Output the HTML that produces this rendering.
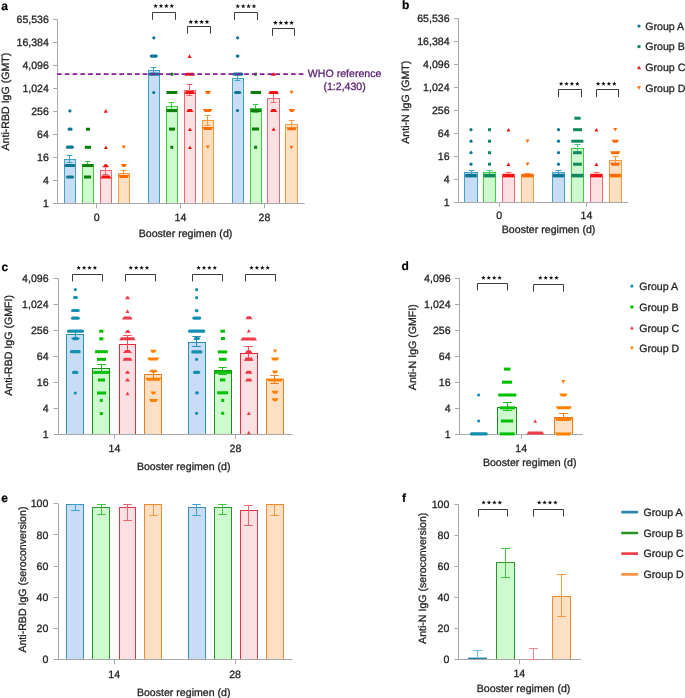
<!DOCTYPE html>
<html><head><meta charset="utf-8"><title>Figure</title>
<style>
html,body{margin:0;padding:0;background:#fff;}
body{width:685px;height:698px;overflow:hidden;}
svg{display:block;font-family:"Liberation Sans",sans-serif;-webkit-font-smoothing:antialiased;will-change:transform;text-rendering:geometricPrecision;}
</style></head>
<body>
<svg width="685" height="698" viewBox="0 0 685 698">
<rect x="0" y="0" width="685" height="698" fill="#fff"/>
<text x="1.20" y="9.50" text-anchor="start" fill="#000" stroke="#000" stroke-width="0.2" font-size="12.0" font-weight="bold" letter-spacing="0">a</text>
<line x1="57.50" y1="19.70" x2="57.50" y2="203.50" stroke="#a8a8a8" stroke-width="1" />
<line x1="53.10" y1="19.50" x2="57.60" y2="19.50" stroke="#a8a8a8" stroke-width="1" />
<text x="48.90" y="23.30" text-anchor="end" fill="#222" stroke="#222" stroke-width="0.28" font-size="10.6" font-weight="normal" letter-spacing="0.0">65,536</text>
<line x1="53.10" y1="42.50" x2="57.60" y2="42.50" stroke="#a8a8a8" stroke-width="1" />
<text x="48.90" y="46.30" text-anchor="end" fill="#222" stroke="#222" stroke-width="0.28" font-size="10.6" font-weight="normal" letter-spacing="0.0">16,384</text>
<line x1="53.10" y1="65.50" x2="57.60" y2="65.50" stroke="#a8a8a8" stroke-width="1" />
<text x="48.90" y="69.20" text-anchor="end" fill="#222" stroke="#222" stroke-width="0.28" font-size="10.6" font-weight="normal" letter-spacing="0.0">4,096</text>
<line x1="53.10" y1="88.50" x2="57.60" y2="88.50" stroke="#a8a8a8" stroke-width="1" />
<text x="48.90" y="92.20" text-anchor="end" fill="#222" stroke="#222" stroke-width="0.28" font-size="10.6" font-weight="normal" letter-spacing="0.0">1,024</text>
<line x1="53.10" y1="111.50" x2="57.60" y2="111.50" stroke="#a8a8a8" stroke-width="1" />
<text x="48.90" y="115.20" text-anchor="end" fill="#222" stroke="#222" stroke-width="0.28" font-size="10.6" font-weight="normal" letter-spacing="0.0">256</text>
<line x1="53.10" y1="134.50" x2="57.60" y2="134.50" stroke="#a8a8a8" stroke-width="1" />
<text x="48.90" y="138.20" text-anchor="end" fill="#222" stroke="#222" stroke-width="0.28" font-size="10.6" font-weight="normal" letter-spacing="0.0">64</text>
<line x1="53.10" y1="157.50" x2="57.60" y2="157.50" stroke="#a8a8a8" stroke-width="1" />
<text x="48.90" y="161.20" text-anchor="end" fill="#222" stroke="#222" stroke-width="0.28" font-size="10.6" font-weight="normal" letter-spacing="0.0">16</text>
<line x1="53.10" y1="180.50" x2="57.60" y2="180.50" stroke="#a8a8a8" stroke-width="1" />
<text x="48.90" y="184.10" text-anchor="end" fill="#222" stroke="#222" stroke-width="0.28" font-size="10.6" font-weight="normal" letter-spacing="0.0">4</text>
<line x1="53.10" y1="203.50" x2="57.60" y2="203.50" stroke="#a8a8a8" stroke-width="1" />
<text x="48.90" y="207.10" text-anchor="end" fill="#222" stroke="#222" stroke-width="0.28" font-size="10.6" font-weight="normal" letter-spacing="0.0">1</text>
<text transform="translate(8.50,101.60) rotate(-90)" x="0" y="0" text-anchor="middle" fill="#222" stroke="#222" stroke-width="0.28" font-size="10.6" letter-spacing="0.0">Anti-RBD IgG (GMT)</text>
<line x1="57.60" y1="203.50" x2="304.50" y2="203.50" stroke="#a8a8a8" stroke-width="1" />
<line x1="96.50" y1="203.50" x2="96.50" y2="208.20" stroke="#a8a8a8" stroke-width="1" />
<text x="96.60" y="221.20" text-anchor="middle" fill="#222" stroke="#222" stroke-width="0.28" font-size="10.6" font-weight="normal" letter-spacing="0.0">0</text>
<line x1="180.50" y1="203.50" x2="180.50" y2="208.20" stroke="#a8a8a8" stroke-width="1" />
<text x="180.50" y="221.20" text-anchor="middle" fill="#222" stroke="#222" stroke-width="0.28" font-size="10.6" font-weight="normal" letter-spacing="0.0">14</text>
<line x1="264.50" y1="203.50" x2="264.50" y2="208.20" stroke="#a8a8a8" stroke-width="1" />
<text x="264.40" y="221.20" text-anchor="middle" fill="#222" stroke="#222" stroke-width="0.28" font-size="10.6" font-weight="normal" letter-spacing="0.0">28</text>
<text x="185.50" y="236.70" text-anchor="middle" fill="#222" stroke="#222" stroke-width="0.28" font-size="10.6" font-weight="normal" letter-spacing="0.0">Booster regimen (d)</text>
<rect x="64.50" y="159.50" width="11.00" height="44.00" fill="#c8dcf5" stroke="#3ea2c6" stroke-width="1"/>
<rect x="82.50" y="164.50" width="11.00" height="39.00" fill="#cdfbcd" stroke="#3ccf3c" stroke-width="1"/>
<rect x="100.50" y="170.50" width="11.00" height="33.00" fill="#fde0e3" stroke="#f2646e" stroke-width="1"/>
<rect x="118.50" y="173.50" width="11.00" height="30.00" fill="#fde0c3" stroke="#fb9a3c" stroke-width="1"/>
<rect x="148.50" y="70.50" width="11.00" height="133.00" fill="#c8dcf5" stroke="#3ea2c6" stroke-width="1"/>
<rect x="166.50" y="106.50" width="11.00" height="97.00" fill="#cdfbcd" stroke="#3ccf3c" stroke-width="1"/>
<rect x="184.50" y="90.50" width="11.00" height="113.00" fill="#fde0e3" stroke="#f2646e" stroke-width="1"/>
<rect x="202.50" y="120.50" width="11.00" height="83.00" fill="#fde0c3" stroke="#fb9a3c" stroke-width="1"/>
<rect x="232.50" y="78.50" width="11.00" height="125.00" fill="#c8dcf5" stroke="#3ea2c6" stroke-width="1"/>
<rect x="250.50" y="108.50" width="11.00" height="95.00" fill="#cdfbcd" stroke="#3ccf3c" stroke-width="1"/>
<rect x="267.50" y="98.50" width="12.00" height="105.00" fill="#fde0e3" stroke="#f2646e" stroke-width="1"/>
<rect x="285.50" y="124.50" width="12.00" height="79.00" fill="#fde0c3" stroke="#fb9a3c" stroke-width="1"/>
<line x1="57.60" y1="203.50" x2="304.50" y2="203.50" stroke="#a8a8a8" stroke-width="1" />
<line x1="69.50" y1="155.50" x2="69.50" y2="162.50" stroke="#3ea2c6" stroke-width="1" />
<line x1="66.60" y1="155.50" x2="72.40" y2="155.50" stroke="#3ea2c6" stroke-width="1" />
<line x1="66.60" y1="162.50" x2="72.40" y2="162.50" stroke="#3ea2c6" stroke-width="1" />
<line x1="87.50" y1="161.50" x2="87.50" y2="166.50" stroke="#3ccf3c" stroke-width="1" />
<line x1="84.60" y1="161.50" x2="90.40" y2="161.50" stroke="#3ccf3c" stroke-width="1" />
<line x1="84.60" y1="166.50" x2="90.40" y2="166.50" stroke="#3ccf3c" stroke-width="1" />
<line x1="105.50" y1="166.50" x2="105.50" y2="174.50" stroke="#f2646e" stroke-width="1" />
<line x1="102.60" y1="166.50" x2="108.40" y2="166.50" stroke="#f2646e" stroke-width="1" />
<line x1="102.60" y1="174.50" x2="108.40" y2="174.50" stroke="#f2646e" stroke-width="1" />
<line x1="123.50" y1="170.50" x2="123.50" y2="176.50" stroke="#fb9a3c" stroke-width="1" />
<line x1="120.60" y1="170.50" x2="126.40" y2="170.50" stroke="#fb9a3c" stroke-width="1" />
<line x1="120.60" y1="176.50" x2="126.40" y2="176.50" stroke="#fb9a3c" stroke-width="1" />
<line x1="153.50" y1="67.50" x2="153.50" y2="73.50" stroke="#3ea2c6" stroke-width="1" />
<line x1="150.60" y1="67.50" x2="156.40" y2="67.50" stroke="#3ea2c6" stroke-width="1" />
<line x1="150.60" y1="73.50" x2="156.40" y2="73.50" stroke="#3ea2c6" stroke-width="1" />
<line x1="171.50" y1="102.50" x2="171.50" y2="109.50" stroke="#3ccf3c" stroke-width="1" />
<line x1="168.60" y1="102.50" x2="174.40" y2="102.50" stroke="#3ccf3c" stroke-width="1" />
<line x1="168.60" y1="109.50" x2="174.40" y2="109.50" stroke="#3ccf3c" stroke-width="1" />
<line x1="189.50" y1="84.50" x2="189.50" y2="95.50" stroke="#f2646e" stroke-width="1" />
<line x1="186.60" y1="84.50" x2="192.40" y2="84.50" stroke="#f2646e" stroke-width="1" />
<line x1="186.60" y1="95.50" x2="192.40" y2="95.50" stroke="#f2646e" stroke-width="1" />
<line x1="207.50" y1="115.50" x2="207.50" y2="125.50" stroke="#fb9a3c" stroke-width="1" />
<line x1="204.60" y1="115.50" x2="210.40" y2="115.50" stroke="#fb9a3c" stroke-width="1" />
<line x1="204.60" y1="125.50" x2="210.40" y2="125.50" stroke="#fb9a3c" stroke-width="1" />
<line x1="237.50" y1="73.50" x2="237.50" y2="80.50" stroke="#3ea2c6" stroke-width="1" />
<line x1="234.60" y1="73.50" x2="240.40" y2="73.50" stroke="#3ea2c6" stroke-width="1" />
<line x1="234.60" y1="80.50" x2="240.40" y2="80.50" stroke="#3ea2c6" stroke-width="1" />
<line x1="255.50" y1="104.50" x2="255.50" y2="112.50" stroke="#3ccf3c" stroke-width="1" />
<line x1="252.60" y1="104.50" x2="258.40" y2="104.50" stroke="#3ccf3c" stroke-width="1" />
<line x1="252.60" y1="112.50" x2="258.40" y2="112.50" stroke="#3ccf3c" stroke-width="1" />
<line x1="273.50" y1="93.50" x2="273.50" y2="102.50" stroke="#f2646e" stroke-width="1" />
<line x1="270.60" y1="93.50" x2="276.40" y2="93.50" stroke="#f2646e" stroke-width="1" />
<line x1="270.60" y1="102.50" x2="276.40" y2="102.50" stroke="#f2646e" stroke-width="1" />
<line x1="291.50" y1="120.50" x2="291.50" y2="129.50" stroke="#fb9a3c" stroke-width="1" />
<line x1="288.60" y1="120.50" x2="294.40" y2="120.50" stroke="#fb9a3c" stroke-width="1" />
<line x1="288.60" y1="129.50" x2="294.40" y2="129.50" stroke="#fb9a3c" stroke-width="1" />
<circle cx="69.90" cy="110.90" r="1.60" fill="#0f7594"/>
<rect x="67.60" y="127.60" width="4.90" height="3.20" rx="1.60" fill="#0f7594"/>
<rect x="65.90" y="145.60" width="8.00" height="3.20" rx="1.60" fill="#0f7594"/>
<rect x="64.50" y="163.90" width="11.00" height="3.20" rx="1.60" fill="#0f7594"/>
<rect x="66.00" y="175.40" width="8.00" height="3.20" rx="1.60" fill="#0f7594"/>
<rect x="86.00" y="127.70" width="4.00" height="3.00" fill="#0b7d0b"/>
<rect x="84.80" y="145.80" width="6.20" height="3.00" fill="#0b7d0b"/>
<rect x="82.40" y="164.00" width="10.90" height="3.00" fill="#0b7d0b"/>
<rect x="84.00" y="175.50" width="7.00" height="3.00" fill="#0b7d0b"/>
<polygon points="103.70,112.70 107.70,112.70 105.70,109.10" fill="#f31212"/>
<polygon points="103.90,149.10 107.90,149.10 105.90,145.50" fill="#f31212"/>
<polygon points="102.80,167.30 108.80,167.30 107.10,164.30 104.50,164.30" fill="#f31212"/>
<polygon points="100.40,178.50 111.40,178.50 109.70,175.50 102.10,175.50" fill="#f31212"/>
<polygon points="121.80,145.50 125.80,145.50 123.80,149.10" fill="#ff6a00"/>
<polygon points="120.90,164.00 126.90,164.00 125.20,167.00 122.60,167.00" fill="#ff6a00"/>
<polygon points="118.40,175.00 129.30,175.00 127.60,178.00 120.10,178.00" fill="#ff6a00"/>
<circle cx="153.80" cy="37.80" r="1.60" fill="#0f7594"/>
<rect x="149.80" y="54.50" width="8.00" height="3.20" rx="1.60" fill="#0f7594"/>
<rect x="148.50" y="72.60" width="10.80" height="3.20" rx="1.60" fill="#0f7594"/>
<circle cx="153.80" cy="92.50" r="1.60" fill="#0f7594"/>
<rect x="170.60" y="72.70" width="2.80" height="3.00" fill="#0b7d0b"/>
<rect x="166.40" y="91.00" width="10.90" height="3.00" fill="#0b7d0b"/>
<rect x="166.40" y="109.10" width="10.90" height="3.00" fill="#0b7d0b"/>
<rect x="169.00" y="127.60" width="6.00" height="3.00" fill="#0b7d0b"/>
<rect x="170.30" y="145.80" width="3.00" height="3.00" fill="#0b7d0b"/>
<polygon points="187.60,57.90 191.60,57.90 189.60,54.30" fill="#f31212"/>
<polygon points="184.60,75.70 195.20,75.70 193.50,72.70 186.30,72.70" fill="#f31212"/>
<polygon points="184.40,94.00 195.40,94.00 193.70,91.00 186.10,91.00" fill="#f31212"/>
<polygon points="186.30,112.10 193.30,112.10 191.60,109.10 188.00,109.10" fill="#f31212"/>
<polygon points="187.90,131.10 191.90,131.10 189.90,127.50" fill="#f31212"/>
<polygon points="187.90,149.10 191.90,149.10 189.90,145.50" fill="#f31212"/>
<polygon points="204.80,91.00 211.00,91.00 209.30,94.00 206.50,94.00" fill="#ff6a00"/>
<polygon points="202.90,109.10 212.40,109.10 210.70,112.10 204.60,112.10" fill="#ff6a00"/>
<polygon points="202.40,127.10 213.20,127.10 211.50,130.10 204.10,130.10" fill="#ff6a00"/>
<polygon points="205.80,145.50 209.80,145.50 207.80,149.10" fill="#ff6a00"/>
<circle cx="237.60" cy="37.80" r="1.60" fill="#0f7594"/>
<rect x="235.70" y="54.50" width="3.80" height="3.20" rx="1.60" fill="#0f7594"/>
<rect x="232.80" y="72.60" width="10.40" height="3.20" rx="1.60" fill="#0f7594"/>
<rect x="234.00" y="90.90" width="7.20" height="3.20" rx="1.60" fill="#0f7594"/>
<circle cx="237.50" cy="110.60" r="1.60" fill="#0f7594"/>
<rect x="254.20" y="72.70" width="2.70" height="3.00" fill="#0b7d0b"/>
<rect x="250.60" y="91.00" width="10.40" height="3.00" fill="#0b7d0b"/>
<rect x="250.40" y="109.10" width="10.80" height="3.00" fill="#0b7d0b"/>
<rect x="252.00" y="127.50" width="7.00" height="3.00" fill="#0b7d0b"/>
<rect x="254.10" y="145.80" width="3.00" height="3.00" fill="#0b7d0b"/>
<polygon points="271.00,75.70 276.00,75.70 274.30,72.70 272.70,72.70" fill="#f31212"/>
<polygon points="268.20,94.00 279.00,94.00 277.30,91.00 269.90,91.00" fill="#f31212"/>
<polygon points="270.00,112.10 277.20,112.10 275.50,109.10 271.70,109.10" fill="#f31212"/>
<polygon points="271.60,130.80 275.60,130.80 273.60,127.20" fill="#f31212"/>
<polygon points="289.50,90.70 293.50,90.70 291.50,94.30" fill="#ff6a00"/>
<polygon points="288.60,109.10 295.00,109.10 293.30,112.10 290.30,112.10" fill="#ff6a00"/>
<polygon points="286.20,127.20 297.00,127.20 295.30,130.20 287.90,130.20" fill="#ff6a00"/>
<polygon points="289.40,145.80 293.40,145.80 291.70,148.80 291.10,148.80" fill="#ff6a00"/>
<rect x="57.6" y="73.3" width="0.1" height="0.1" fill="none"/>
<line x1="56.96" y1="74.2" x2="303.7" y2="74.2" stroke="#8a1a9b" stroke-width="1.75" stroke-dasharray="4.7 3.1"/>
<text x="344.60" y="76.80" text-anchor="middle" fill="#5b2470" stroke="#5b2470" stroke-width="0.28" font-size="10.6" font-weight="normal" letter-spacing="0.0">WHO reference</text>
<text x="344.60" y="89.80" text-anchor="middle" fill="#5b2470" stroke="#5b2470" stroke-width="0.28" font-size="10.6" font-weight="normal" letter-spacing="0.0">(1:2,430)</text>
<polyline points="152.50,19.80 152.50,12.50 175.50,12.50 175.50,19.80" fill="none" stroke="#3a3a3a" stroke-width="1"/>
<polygon points="155.60,3.55 156.22,5.20 157.98,5.28 156.60,6.37 157.07,8.07 155.60,7.10 154.13,8.07 154.60,6.37 153.22,5.28 154.98,5.20" fill="#111"/>
<polygon points="161.00,3.55 161.62,5.20 163.38,5.28 162.00,6.37 162.47,8.07 161.00,7.10 159.53,8.07 160.00,6.37 158.62,5.28 160.38,5.20" fill="#111"/>
<polygon points="166.40,3.55 167.02,5.20 168.78,5.28 167.40,6.37 167.87,8.07 166.40,7.10 164.93,8.07 165.40,6.37 164.02,5.28 165.78,5.20" fill="#111"/>
<polygon points="171.80,3.55 172.42,5.20 174.18,5.28 172.80,6.37 173.27,8.07 171.80,7.10 170.33,8.07 170.80,6.37 169.42,5.28 171.18,5.20" fill="#111"/>
<polyline points="187.50,33.70 187.50,26.50 210.50,26.50 210.50,33.70" fill="none" stroke="#3a3a3a" stroke-width="1"/>
<polygon points="190.80,19.45 191.42,21.10 193.18,21.18 191.80,22.27 192.27,23.97 190.80,23.00 189.33,23.97 189.80,22.27 188.42,21.18 190.18,21.10" fill="#111"/>
<polygon points="196.20,19.45 196.82,21.10 198.58,21.18 197.20,22.27 197.67,23.97 196.20,23.00 194.73,23.97 195.20,22.27 193.82,21.18 195.58,21.10" fill="#111"/>
<polygon points="201.60,19.45 202.22,21.10 203.98,21.18 202.60,22.27 203.07,23.97 201.60,23.00 200.13,23.97 200.60,22.27 199.22,21.18 200.98,21.10" fill="#111"/>
<polygon points="207.00,19.45 207.62,21.10 209.38,21.18 208.00,22.27 208.47,23.97 207.00,23.00 205.53,23.97 206.00,22.27 204.62,21.18 206.38,21.10" fill="#111"/>
<polyline points="234.50,20.20 234.50,12.50 257.50,12.50 257.50,20.20" fill="none" stroke="#3a3a3a" stroke-width="1"/>
<polygon points="237.80,3.75 238.42,5.40 240.18,5.48 238.80,6.57 239.27,8.27 237.80,7.30 236.33,8.27 236.80,6.57 235.42,5.48 237.18,5.40" fill="#111"/>
<polygon points="243.20,3.75 243.82,5.40 245.58,5.48 244.20,6.57 244.67,8.27 243.20,7.30 241.73,8.27 242.20,6.57 240.82,5.48 242.58,5.40" fill="#111"/>
<polygon points="248.60,3.75 249.22,5.40 250.98,5.48 249.60,6.57 250.07,8.27 248.60,7.30 247.13,8.27 247.60,6.57 246.22,5.48 247.98,5.40" fill="#111"/>
<polygon points="254.00,3.75 254.62,5.40 256.38,5.48 255.00,6.57 255.47,8.27 254.00,7.30 252.53,8.27 253.00,6.57 251.62,5.48 253.38,5.40" fill="#111"/>
<polyline points="272.50,35.80 272.50,28.50 294.50,28.50 294.50,35.80" fill="none" stroke="#3a3a3a" stroke-width="1"/>
<polygon points="275.40,20.35 276.02,22.00 277.78,22.08 276.40,23.17 276.87,24.87 275.40,23.90 273.93,24.87 274.40,23.17 273.02,22.08 274.78,22.00" fill="#111"/>
<polygon points="280.80,20.35 281.42,22.00 283.18,22.08 281.80,23.17 282.27,24.87 280.80,23.90 279.33,24.87 279.80,23.17 278.42,22.08 280.18,22.00" fill="#111"/>
<polygon points="286.20,20.35 286.82,22.00 288.58,22.08 287.20,23.17 287.67,24.87 286.20,23.90 284.73,24.87 285.20,23.17 283.82,22.08 285.58,22.00" fill="#111"/>
<polygon points="291.60,20.35 292.22,22.00 293.98,22.08 292.60,23.17 293.07,24.87 291.60,23.90 290.13,24.87 290.60,23.17 289.22,22.08 290.98,22.00" fill="#111"/>
<text x="401.90" y="9.30" text-anchor="start" fill="#000" stroke="#000" stroke-width="0.2" font-size="12.0" font-weight="bold" letter-spacing="0">b</text>
<line x1="458.50" y1="18.40" x2="458.50" y2="202.30" stroke="#a8a8a8" stroke-width="1" />
<line x1="454.00" y1="18.50" x2="458.50" y2="18.50" stroke="#a8a8a8" stroke-width="1" />
<text x="449.60" y="22.00" text-anchor="end" fill="#222" stroke="#222" stroke-width="0.28" font-size="10.6" font-weight="normal" letter-spacing="0.0">65,536</text>
<line x1="454.00" y1="41.50" x2="458.50" y2="41.50" stroke="#a8a8a8" stroke-width="1" />
<text x="449.60" y="45.00" text-anchor="end" fill="#222" stroke="#222" stroke-width="0.28" font-size="10.6" font-weight="normal" letter-spacing="0.0">16,384</text>
<line x1="454.00" y1="64.50" x2="458.50" y2="64.50" stroke="#a8a8a8" stroke-width="1" />
<text x="449.60" y="68.00" text-anchor="end" fill="#222" stroke="#222" stroke-width="0.28" font-size="10.6" font-weight="normal" letter-spacing="0.0">4,096</text>
<line x1="454.00" y1="87.50" x2="458.50" y2="87.50" stroke="#a8a8a8" stroke-width="1" />
<text x="449.60" y="90.90" text-anchor="end" fill="#222" stroke="#222" stroke-width="0.28" font-size="10.6" font-weight="normal" letter-spacing="0.0">1,024</text>
<line x1="454.00" y1="110.50" x2="458.50" y2="110.50" stroke="#a8a8a8" stroke-width="1" />
<text x="449.60" y="113.90" text-anchor="end" fill="#222" stroke="#222" stroke-width="0.28" font-size="10.6" font-weight="normal" letter-spacing="0.0">256</text>
<line x1="454.00" y1="133.50" x2="458.50" y2="133.50" stroke="#a8a8a8" stroke-width="1" />
<text x="449.60" y="136.90" text-anchor="end" fill="#222" stroke="#222" stroke-width="0.28" font-size="10.6" font-weight="normal" letter-spacing="0.0">64</text>
<line x1="454.00" y1="156.50" x2="458.50" y2="156.50" stroke="#a8a8a8" stroke-width="1" />
<text x="449.60" y="159.90" text-anchor="end" fill="#222" stroke="#222" stroke-width="0.28" font-size="10.6" font-weight="normal" letter-spacing="0.0">16</text>
<line x1="454.00" y1="179.50" x2="458.50" y2="179.50" stroke="#a8a8a8" stroke-width="1" />
<text x="449.60" y="182.90" text-anchor="end" fill="#222" stroke="#222" stroke-width="0.28" font-size="10.6" font-weight="normal" letter-spacing="0.0">4</text>
<line x1="454.00" y1="202.50" x2="458.50" y2="202.50" stroke="#a8a8a8" stroke-width="1" />
<text x="449.60" y="205.90" text-anchor="end" fill="#222" stroke="#222" stroke-width="0.28" font-size="10.6" font-weight="normal" letter-spacing="0.0">1</text>
<text transform="translate(409.30,102.20) rotate(-90)" x="0" y="0" text-anchor="middle" fill="#222" stroke="#222" stroke-width="0.28" font-size="10.6" letter-spacing="0.0">Anti-N IgG (GMT)</text>
<line x1="458.50" y1="202.50" x2="628.20" y2="202.50" stroke="#a8a8a8" stroke-width="1" />
<line x1="499.50" y1="202.30" x2="499.50" y2="207.00" stroke="#a8a8a8" stroke-width="1" />
<text x="499.30" y="218.70" text-anchor="middle" fill="#222" stroke="#222" stroke-width="0.28" font-size="10.6" font-weight="normal" letter-spacing="0.0">0</text>
<line x1="586.50" y1="202.30" x2="586.50" y2="207.00" stroke="#a8a8a8" stroke-width="1" />
<text x="586.50" y="218.70" text-anchor="middle" fill="#222" stroke="#222" stroke-width="0.28" font-size="10.6" font-weight="normal" letter-spacing="0.0">14</text>
<text x="548.60" y="232.80" text-anchor="middle" fill="#222" stroke="#222" stroke-width="0.28" font-size="10.6" font-weight="normal" letter-spacing="0.0">Booster regimen (d)</text>
<rect x="464.50" y="172.50" width="13.00" height="30.00" fill="#c8dcf5" stroke="#3ea2c6" stroke-width="1"/>
<rect x="483.50" y="172.50" width="12.00" height="30.00" fill="#cdfbcd" stroke="#3ccf3c" stroke-width="1"/>
<rect x="502.50" y="174.50" width="12.00" height="28.00" fill="#fde0e3" stroke="#f2646e" stroke-width="1"/>
<rect x="521.50" y="174.50" width="12.00" height="28.00" fill="#fde0c3" stroke="#fb9a3c" stroke-width="1"/>
<rect x="552.50" y="172.50" width="12.00" height="30.00" fill="#c8dcf5" stroke="#3ea2c6" stroke-width="1"/>
<rect x="571.50" y="148.50" width="12.00" height="54.00" fill="#cdfbcd" stroke="#3ccf3c" stroke-width="1"/>
<rect x="590.50" y="174.50" width="12.00" height="28.00" fill="#fde0e3" stroke="#f2646e" stroke-width="1"/>
<rect x="609.50" y="160.50" width="12.00" height="42.00" fill="#fde0c3" stroke="#fb9a3c" stroke-width="1"/>
<line x1="458.50" y1="202.50" x2="628.20" y2="202.50" stroke="#a8a8a8" stroke-width="1" />
<line x1="471.50" y1="170.50" x2="471.50" y2="174.50" stroke="#3ea2c6" stroke-width="1" />
<line x1="468.50" y1="170.50" x2="474.50" y2="170.50" stroke="#3ea2c6" stroke-width="1" />
<line x1="468.50" y1="174.50" x2="474.50" y2="174.50" stroke="#3ea2c6" stroke-width="1" />
<line x1="489.50" y1="170.50" x2="489.50" y2="174.50" stroke="#3fc7a0" stroke-width="1" />
<line x1="486.50" y1="170.50" x2="492.50" y2="170.50" stroke="#3fc7a0" stroke-width="1" />
<line x1="486.50" y1="174.50" x2="492.50" y2="174.50" stroke="#3fc7a0" stroke-width="1" />
<line x1="508.50" y1="172.50" x2="508.50" y2="176.50" stroke="#f2646e" stroke-width="1" />
<line x1="505.50" y1="172.50" x2="511.50" y2="172.50" stroke="#f2646e" stroke-width="1" />
<line x1="505.50" y1="176.50" x2="511.50" y2="176.50" stroke="#f2646e" stroke-width="1" />
<line x1="527.50" y1="173.50" x2="527.50" y2="175.50" stroke="#fb9a3c" stroke-width="1" />
<line x1="524.50" y1="173.50" x2="530.50" y2="173.50" stroke="#fb9a3c" stroke-width="1" />
<line x1="524.50" y1="175.50" x2="530.50" y2="175.50" stroke="#fb9a3c" stroke-width="1" />
<line x1="558.50" y1="170.50" x2="558.50" y2="174.50" stroke="#3ea2c6" stroke-width="1" />
<line x1="555.50" y1="170.50" x2="561.50" y2="170.50" stroke="#3ea2c6" stroke-width="1" />
<line x1="555.50" y1="174.50" x2="561.50" y2="174.50" stroke="#3ea2c6" stroke-width="1" />
<line x1="577.50" y1="144.50" x2="577.50" y2="152.50" stroke="#3fc7a0" stroke-width="1" />
<line x1="574.50" y1="144.50" x2="580.50" y2="144.50" stroke="#3fc7a0" stroke-width="1" />
<line x1="574.50" y1="152.50" x2="580.50" y2="152.50" stroke="#3fc7a0" stroke-width="1" />
<line x1="596.50" y1="172.50" x2="596.50" y2="176.50" stroke="#f2646e" stroke-width="1" />
<line x1="593.50" y1="172.50" x2="599.50" y2="172.50" stroke="#f2646e" stroke-width="1" />
<line x1="593.50" y1="176.50" x2="599.50" y2="176.50" stroke="#f2646e" stroke-width="1" />
<line x1="615.50" y1="156.50" x2="615.50" y2="163.50" stroke="#fb9a3c" stroke-width="1" />
<line x1="612.50" y1="156.50" x2="618.50" y2="156.50" stroke="#fb9a3c" stroke-width="1" />
<line x1="612.50" y1="163.50" x2="618.50" y2="163.50" stroke="#fb9a3c" stroke-width="1" />
<circle cx="471.00" cy="129.70" r="1.60" fill="#0f7594"/>
<circle cx="471.00" cy="141.20" r="1.60" fill="#0f7594"/>
<circle cx="471.00" cy="152.70" r="1.60" fill="#0f7594"/>
<circle cx="471.00" cy="164.20" r="1.60" fill="#0f7594"/>
<rect x="465.20" y="173.80" width="11.60" height="3.6" fill="#0f7594"/>
<rect x="488.00" y="128.20" width="3.00" height="3.00" fill="#0e8a5a"/>
<rect x="488.00" y="139.70" width="3.00" height="3.00" fill="#0e8a5a"/>
<rect x="488.00" y="151.20" width="3.00" height="3.00" fill="#0e8a5a"/>
<rect x="488.00" y="162.70" width="3.00" height="3.00" fill="#0e8a5a"/>
<rect x="483.60" y="173.80" width="11.70" height="3.6" fill="#0e8a5a"/>
<polygon points="506.50,131.50 510.50,131.50 508.50,127.90" fill="#f31212"/>
<polygon points="506.50,166.00 510.50,166.00 508.50,162.40" fill="#f31212"/>
<rect x="502.70" y="173.80" width="11.60" height="3.6" fill="#f31212"/>
<polygon points="525.50,139.40 529.50,139.40 527.50,143.00" fill="#ff6a00"/>
<polygon points="525.50,162.40 529.50,162.40 527.50,166.00" fill="#ff6a00"/>
<rect x="521.70" y="173.80" width="11.70" height="3.6" fill="#ff6a00"/>
<circle cx="558.50" cy="129.70" r="1.60" fill="#0f7594"/>
<circle cx="558.50" cy="141.20" r="1.60" fill="#0f7594"/>
<circle cx="558.50" cy="152.70" r="1.60" fill="#0f7594"/>
<circle cx="558.50" cy="164.20" r="1.60" fill="#0f7594"/>
<rect x="552.70" y="173.80" width="11.60" height="3.6" fill="#0f7594"/>
<rect x="574.30" y="116.70" width="6.30" height="3.00" fill="#0e8a5a"/>
<rect x="573.10" y="128.20" width="8.90" height="3.00" fill="#0e8a5a"/>
<rect x="571.30" y="139.70" width="12.10" height="3.00" fill="#0e8a5a"/>
<rect x="573.00" y="151.20" width="8.80" height="3.00" fill="#0e8a5a"/>
<rect x="573.00" y="162.70" width="8.80" height="3.00" fill="#0e8a5a"/>
<rect x="571.30" y="173.80" width="12.10" height="3.6" fill="#0e8a5a"/>
<polygon points="594.40,131.50 598.40,131.50 596.40,127.90" fill="#f31212"/>
<polygon points="594.40,166.00 598.40,166.00 596.40,162.40" fill="#f31212"/>
<rect x="590.40" y="173.80" width="11.80" height="3.6" fill="#f31212"/>
<polygon points="613.20,127.90 617.20,127.90 615.20,131.50" fill="#ff6a00"/>
<polygon points="611.50,139.70 619.00,139.70 617.30,142.70 613.20,142.70" fill="#ff6a00"/>
<polygon points="610.00,151.20 620.40,151.20 618.70,154.20 611.70,154.20" fill="#ff6a00"/>
<polygon points="610.00,162.70 620.40,162.70 618.70,165.70 611.70,165.70" fill="#ff6a00"/>
<rect x="609.40" y="173.80" width="11.50" height="3.6" fill="#ff6a00"/>
<polyline points="558.50,97.20 558.50,89.50 581.50,89.50 581.50,97.20" fill="none" stroke="#3a3a3a" stroke-width="1"/>
<polygon points="561.10,81.39 561.68,82.94 563.33,83.01 562.04,84.04 562.48,85.64 561.10,84.72 559.72,85.64 560.16,84.04 558.87,83.01 560.52,82.94" fill="#111"/>
<polygon points="566.50,81.39 567.08,82.94 568.73,83.01 567.44,84.04 567.88,85.64 566.50,84.72 565.12,85.64 565.56,84.04 564.27,83.01 565.92,82.94" fill="#111"/>
<polygon points="571.90,81.39 572.48,82.94 574.13,83.01 572.84,84.04 573.28,85.64 571.90,84.72 570.52,85.64 570.96,84.04 569.67,83.01 571.32,82.94" fill="#111"/>
<polygon points="577.30,81.39 577.88,82.94 579.53,83.01 578.24,84.04 578.68,85.64 577.30,84.72 575.92,85.64 576.36,84.04 575.07,83.01 576.72,82.94" fill="#111"/>
<polyline points="596.50,97.20 596.50,89.50 618.50,89.50 618.50,97.20" fill="none" stroke="#3a3a3a" stroke-width="1"/>
<polygon points="598.10,81.39 598.68,82.94 600.33,83.01 599.04,84.04 599.48,85.64 598.10,84.72 596.72,85.64 597.16,84.04 595.87,83.01 597.52,82.94" fill="#111"/>
<polygon points="603.50,81.39 604.08,82.94 605.73,83.01 604.44,84.04 604.88,85.64 603.50,84.72 602.12,85.64 602.56,84.04 601.27,83.01 602.92,82.94" fill="#111"/>
<polygon points="608.90,81.39 609.48,82.94 611.13,83.01 609.84,84.04 610.28,85.64 608.90,84.72 607.52,85.64 607.96,84.04 606.67,83.01 608.32,82.94" fill="#111"/>
<polygon points="614.30,81.39 614.88,82.94 616.53,83.01 615.24,84.04 615.68,85.64 614.30,84.72 612.92,85.64 613.36,84.04 612.07,83.01 613.72,82.94" fill="#111"/>
<circle cx="639.00" cy="26.10" r="1.60" fill="#0f7594"/>
<text x="645.30" y="29.80" text-anchor="start" fill="#222" stroke="#222" stroke-width="0.28" font-size="10.6" font-weight="normal" letter-spacing="0.0">Group A</text>
<rect x="637.50" y="45.10" width="3.00" height="3.00" fill="#0e8a5a"/>
<text x="645.30" y="50.30" text-anchor="start" fill="#222" stroke="#222" stroke-width="0.28" font-size="10.6" font-weight="normal" letter-spacing="0.0">Group B</text>
<polygon points="637.00,69.20 641.00,69.20 639.00,65.60" fill="#f31212"/>
<text x="645.30" y="71.10" text-anchor="start" fill="#222" stroke="#222" stroke-width="0.28" font-size="10.6" font-weight="normal" letter-spacing="0.0">Group C</text>
<polygon points="637.00,86.20 641.00,86.20 639.00,89.80" fill="#ff6a00"/>
<text x="645.30" y="91.70" text-anchor="start" fill="#222" stroke="#222" stroke-width="0.28" font-size="10.6" font-weight="normal" letter-spacing="0.0">Group D</text>
<text x="1.60" y="270.50" text-anchor="start" fill="#000" stroke="#000" stroke-width="0.2" font-size="12.0" font-weight="bold" letter-spacing="0">c</text>
<line x1="58.50" y1="278.30" x2="58.50" y2="434.00" stroke="#a8a8a8" stroke-width="1" />
<line x1="53.50" y1="278.50" x2="58.00" y2="278.50" stroke="#a8a8a8" stroke-width="1" />
<text x="48.60" y="281.90" text-anchor="end" fill="#222" stroke="#222" stroke-width="0.28" font-size="10.6" font-weight="normal" letter-spacing="0.0">4,096</text>
<line x1="53.50" y1="304.50" x2="58.00" y2="304.50" stroke="#a8a8a8" stroke-width="1" />
<text x="48.60" y="307.80" text-anchor="end" fill="#222" stroke="#222" stroke-width="0.28" font-size="10.6" font-weight="normal" letter-spacing="0.0">1,024</text>
<line x1="53.50" y1="330.50" x2="58.00" y2="330.50" stroke="#a8a8a8" stroke-width="1" />
<text x="48.60" y="333.80" text-anchor="end" fill="#222" stroke="#222" stroke-width="0.28" font-size="10.6" font-weight="normal" letter-spacing="0.0">256</text>
<line x1="53.50" y1="356.50" x2="58.00" y2="356.50" stroke="#a8a8a8" stroke-width="1" />
<text x="48.60" y="359.70" text-anchor="end" fill="#222" stroke="#222" stroke-width="0.28" font-size="10.6" font-weight="normal" letter-spacing="0.0">64</text>
<line x1="53.50" y1="382.50" x2="58.00" y2="382.50" stroke="#a8a8a8" stroke-width="1" />
<text x="48.60" y="385.70" text-anchor="end" fill="#222" stroke="#222" stroke-width="0.28" font-size="10.6" font-weight="normal" letter-spacing="0.0">16</text>
<line x1="53.50" y1="408.50" x2="58.00" y2="408.50" stroke="#a8a8a8" stroke-width="1" />
<text x="48.60" y="411.60" text-anchor="end" fill="#222" stroke="#222" stroke-width="0.28" font-size="10.6" font-weight="normal" letter-spacing="0.0">4</text>
<line x1="53.50" y1="434.50" x2="58.00" y2="434.50" stroke="#a8a8a8" stroke-width="1" />
<text x="48.60" y="437.60" text-anchor="end" fill="#222" stroke="#222" stroke-width="0.28" font-size="10.6" font-weight="normal" letter-spacing="0.0">1</text>
<text transform="translate(12.10,345.40) rotate(-90)" x="0" y="0" text-anchor="middle" fill="#222" stroke="#222" stroke-width="0.28" font-size="10.6" letter-spacing="0.0">Anti-RBD IgG (GMFI)</text>
<line x1="58.00" y1="434.50" x2="292.40" y2="434.50" stroke="#a8a8a8" stroke-width="1" />
<line x1="114.50" y1="434.00" x2="114.50" y2="438.80" stroke="#a8a8a8" stroke-width="1" />
<text x="114.40" y="452.10" text-anchor="middle" fill="#222" stroke="#222" stroke-width="0.28" font-size="10.6" font-weight="normal" letter-spacing="0.0">14</text>
<line x1="235.50" y1="434.00" x2="235.50" y2="438.80" stroke="#a8a8a8" stroke-width="1" />
<text x="235.50" y="452.10" text-anchor="middle" fill="#222" stroke="#222" stroke-width="0.28" font-size="10.6" font-weight="normal" letter-spacing="0.0">28</text>
<text x="183.70" y="469.80" text-anchor="middle" fill="#222" stroke="#222" stroke-width="0.28" font-size="10.6" font-weight="normal" letter-spacing="0.0">Booster regimen (d)</text>
<rect x="66.50" y="334.50" width="17.00" height="100.00" fill="#c8dcf5" stroke="#2b90b4" stroke-width="1"/>
<rect x="92.50" y="368.50" width="17.00" height="66.00" fill="#cdfbcd" stroke="#1b8f1b" stroke-width="1"/>
<rect x="119.50" y="344.50" width="16.00" height="90.00" fill="#fde0e3" stroke="#ea2a36" stroke-width="1"/>
<rect x="144.50" y="374.50" width="17.00" height="60.00" fill="#fde0c3" stroke="#f27c1c" stroke-width="1"/>
<rect x="188.50" y="342.50" width="17.00" height="92.00" fill="#c8dcf5" stroke="#2b90b4" stroke-width="1"/>
<rect x="214.50" y="370.50" width="17.00" height="64.00" fill="#cdfbcd" stroke="#1b8f1b" stroke-width="1"/>
<rect x="240.50" y="353.50" width="17.00" height="81.00" fill="#fde0e3" stroke="#ea2a36" stroke-width="1"/>
<rect x="266.50" y="379.50" width="17.00" height="55.00" fill="#fde0c3" stroke="#f27c1c" stroke-width="1"/>
<line x1="58.00" y1="434.50" x2="292.40" y2="434.50" stroke="#a8a8a8" stroke-width="1" />
<line x1="75.50" y1="330.50" x2="75.50" y2="338.50" stroke="#2b90b4" stroke-width="1" />
<line x1="71.25" y1="330.50" x2="79.75" y2="330.50" stroke="#2b90b4" stroke-width="1" />
<line x1="71.25" y1="338.50" x2="79.75" y2="338.50" stroke="#2b90b4" stroke-width="1" />
<line x1="101.50" y1="364.50" x2="101.50" y2="372.50" stroke="#1fbf1f" stroke-width="1" />
<line x1="97.25" y1="364.50" x2="105.75" y2="364.50" stroke="#1fbf1f" stroke-width="1" />
<line x1="97.25" y1="372.50" x2="105.75" y2="372.50" stroke="#1fbf1f" stroke-width="1" />
<line x1="127.50" y1="335.50" x2="127.50" y2="352.50" stroke="#f0505c" stroke-width="1" />
<line x1="123.25" y1="335.50" x2="131.75" y2="335.50" stroke="#f0505c" stroke-width="1" />
<line x1="123.25" y1="352.50" x2="131.75" y2="352.50" stroke="#f0505c" stroke-width="1" />
<line x1="153.50" y1="371.50" x2="153.50" y2="378.50" stroke="#f27c1c" stroke-width="1" />
<line x1="149.25" y1="371.50" x2="157.75" y2="371.50" stroke="#f27c1c" stroke-width="1" />
<line x1="149.25" y1="378.50" x2="157.75" y2="378.50" stroke="#f27c1c" stroke-width="1" />
<line x1="196.50" y1="336.50" x2="196.50" y2="346.50" stroke="#2b90b4" stroke-width="1" />
<line x1="192.25" y1="336.50" x2="200.75" y2="336.50" stroke="#2b90b4" stroke-width="1" />
<line x1="192.25" y1="346.50" x2="200.75" y2="346.50" stroke="#2b90b4" stroke-width="1" />
<line x1="222.50" y1="367.50" x2="222.50" y2="374.50" stroke="#1fbf1f" stroke-width="1" />
<line x1="218.25" y1="367.50" x2="226.75" y2="367.50" stroke="#1fbf1f" stroke-width="1" />
<line x1="218.25" y1="374.50" x2="226.75" y2="374.50" stroke="#1fbf1f" stroke-width="1" />
<line x1="248.50" y1="346.50" x2="248.50" y2="360.50" stroke="#f0505c" stroke-width="1" />
<line x1="244.25" y1="346.50" x2="252.75" y2="346.50" stroke="#f0505c" stroke-width="1" />
<line x1="244.25" y1="360.50" x2="252.75" y2="360.50" stroke="#f0505c" stroke-width="1" />
<line x1="274.50" y1="375.50" x2="274.50" y2="383.50" stroke="#f27c1c" stroke-width="1" />
<line x1="270.25" y1="375.50" x2="278.75" y2="375.50" stroke="#f27c1c" stroke-width="1" />
<line x1="270.25" y1="383.50" x2="278.75" y2="383.50" stroke="#f27c1c" stroke-width="1" />
<circle cx="75.30" cy="289.60" r="1.60" fill="#1190b0"/>
<rect x="73.00" y="295.90" width="5.00" height="3.20" rx="1.60" fill="#1190b0"/>
<rect x="71.00" y="308.90" width="8.80" height="3.20" rx="1.60" fill="#1190b0"/>
<rect x="71.00" y="316.60" width="8.80" height="3.20" rx="1.60" fill="#1190b0"/>
<rect x="67.00" y="329.60" width="17.00" height="3.20" rx="1.60" fill="#1190b0"/>
<rect x="72.00" y="337.00" width="7.00" height="3.20" rx="1.60" fill="#1190b0"/>
<rect x="69.80" y="350.10" width="10.90" height="3.20" rx="1.60" fill="#1190b0"/>
<rect x="72.00" y="370.80" width="6.40" height="3.20" rx="1.60" fill="#1190b0"/>
<circle cx="75.30" cy="393.00" r="1.60" fill="#1190b0"/>
<rect x="99.20" y="329.70" width="4.20" height="3.00" fill="#00c000"/>
<rect x="99.20" y="337.30" width="4.20" height="3.00" fill="#00c000"/>
<rect x="95.10" y="350.20" width="12.70" height="3.00" fill="#00c000"/>
<rect x="97.00" y="357.80" width="9.00" height="3.00" fill="#00c000"/>
<rect x="93.30" y="370.90" width="16.10" height="3.00" fill="#00c000"/>
<rect x="98.00" y="378.50" width="7.00" height="3.00" fill="#00c000"/>
<rect x="97.00" y="391.50" width="9.00" height="3.00" fill="#00c000"/>
<rect x="99.80" y="399.00" width="3.00" height="3.00" fill="#00c000"/>
<rect x="99.80" y="412.00" width="3.00" height="3.00" fill="#00c000"/>
<polygon points="125.00,299.20 130.00,299.20 128.30,296.20 126.70,296.20" fill="#f23a48"/>
<polygon points="125.50,312.90 129.50,312.90 127.50,309.30" fill="#f23a48"/>
<polygon points="122.00,319.60 132.50,319.60 130.80,316.60 123.70,316.60" fill="#f23a48"/>
<polygon points="125.00,333.10 130.50,333.10 128.80,330.10 126.70,330.10" fill="#f23a48"/>
<polygon points="119.20,340.30 135.60,340.30 133.90,337.30 120.90,337.30" fill="#f23a48"/>
<polygon points="123.50,353.10 131.50,353.10 129.80,350.10 125.20,350.10" fill="#f23a48"/>
<polygon points="122.50,360.80 132.50,360.80 130.80,357.80 124.20,357.80" fill="#f23a48"/>
<polygon points="125.00,373.80 130.00,373.80 128.30,370.80 126.70,370.80" fill="#f23a48"/>
<polygon points="125.00,381.40 130.00,381.40 128.30,378.40 126.70,378.40" fill="#f23a48"/>
<polygon points="125.50,395.20 129.50,395.20 127.50,391.60" fill="#f23a48"/>
<polygon points="150.10,349.70 156.60,349.70 154.90,352.70 151.80,352.70" fill="#ff8000"/>
<polygon points="147.10,357.40 159.20,357.40 157.50,360.40 148.80,360.40" fill="#ff8000"/>
<polygon points="150.00,369.80 157.00,369.80 155.30,372.80 151.70,372.80" fill="#ff8000"/>
<polygon points="145.40,377.80 161.20,377.80 159.50,380.80 147.10,380.80" fill="#ff8000"/>
<polygon points="150.50,391.50 156.50,391.50 154.80,394.50 152.20,394.50" fill="#ff8000"/>
<polygon points="149.00,398.90 158.00,398.90 156.30,401.90 150.70,401.90" fill="#ff8000"/>
<circle cx="196.60" cy="289.70" r="1.60" fill="#1190b0"/>
<circle cx="196.60" cy="297.70" r="1.60" fill="#1190b0"/>
<rect x="194.75" y="309.00" width="3.80" height="3.20" rx="1.60" fill="#1190b0"/>
<rect x="192.20" y="316.50" width="9.00" height="3.20" rx="1.60" fill="#1190b0"/>
<rect x="188.00" y="329.60" width="17.30" height="3.20" rx="1.60" fill="#1190b0"/>
<rect x="193.80" y="336.90" width="6.20" height="3.20" rx="1.60" fill="#1190b0"/>
<rect x="191.20" y="350.30" width="11.30" height="3.20" rx="1.60" fill="#1190b0"/>
<circle cx="196.60" cy="359.30" r="1.60" fill="#1190b0"/>
<rect x="193.00" y="370.70" width="7.20" height="3.20" rx="1.60" fill="#1190b0"/>
<rect x="195.00" y="391.20" width="4.00" height="3.20" rx="1.60" fill="#1190b0"/>
<circle cx="196.60" cy="413.30" r="1.60" fill="#1190b0"/>
<rect x="220.40" y="329.70" width="4.60" height="3.00" fill="#00c000"/>
<rect x="221.00" y="337.00" width="4.00" height="3.00" fill="#00c000"/>
<rect x="217.80" y="350.40" width="9.40" height="3.00" fill="#00c000"/>
<rect x="218.90" y="357.80" width="7.60" height="3.00" fill="#00c000"/>
<rect x="214.60" y="370.80" width="16.30" height="3.00" fill="#00c000"/>
<rect x="220.00" y="378.40" width="5.40" height="3.00" fill="#00c000"/>
<rect x="217.20" y="391.30" width="10.80" height="3.00" fill="#00c000"/>
<rect x="221.20" y="398.90" width="3.00" height="3.00" fill="#00c000"/>
<rect x="221.20" y="411.80" width="3.00" height="3.00" fill="#00c000"/>
<polygon points="245.50,319.30 252.50,319.30 250.80,316.30 247.20,316.30" fill="#f23a48"/>
<polygon points="246.80,332.60 250.80,332.60 248.80,329.00" fill="#f23a48"/>
<polygon points="240.40,340.60 257.00,340.60 255.30,337.60 242.10,337.60" fill="#f23a48"/>
<polygon points="245.00,353.30 252.50,353.30 250.80,350.30 246.70,350.30" fill="#f23a48"/>
<polygon points="244.00,360.50 253.50,360.50 251.80,357.50 245.70,357.50" fill="#f23a48"/>
<polygon points="245.00,373.80 252.50,373.80 250.80,370.80 246.70,370.80" fill="#f23a48"/>
<polygon points="245.00,381.50 252.50,381.50 250.80,378.50 246.70,378.50" fill="#f23a48"/>
<polygon points="246.80,415.10 250.80,415.10 248.80,411.50" fill="#f23a48"/>
<polygon points="246.80,434.40 250.80,434.40 248.80,430.80" fill="#f23a48"/>
<polygon points="273.10,349.60 277.10,349.60 275.10,353.20" fill="#ff8000"/>
<polygon points="271.00,357.50 279.20,357.50 277.50,360.50 272.70,360.50" fill="#ff8000"/>
<polygon points="272.00,370.50 278.20,370.50 276.50,373.50 273.70,373.50" fill="#ff8000"/>
<polygon points="266.60,378.50 283.00,378.50 281.30,381.50 268.30,381.50" fill="#ff8000"/>
<polygon points="271.60,390.70 278.60,390.70 276.90,393.70 273.30,393.70" fill="#ff8000"/>
<polygon points="271.60,398.30 278.60,398.30 276.90,401.30 273.30,401.30" fill="#ff8000"/>
<polyline points="72.50,281.40 72.50,274.50 102.50,274.50 102.50,281.40" fill="none" stroke="#3a3a3a" stroke-width="1"/>
<polygon points="78.70,265.38 79.28,266.94 80.93,267.01 79.64,268.04 80.08,269.64 78.70,268.72 77.32,269.64 77.76,268.04 76.47,267.01 78.12,266.94" fill="#111"/>
<polygon points="84.10,265.38 84.68,266.94 86.33,267.01 85.04,268.04 85.48,269.64 84.10,268.72 82.72,269.64 83.16,268.04 81.87,267.01 83.52,266.94" fill="#111"/>
<polygon points="89.50,265.38 90.08,266.94 91.73,267.01 90.44,268.04 90.88,269.64 89.50,268.72 88.12,269.64 88.56,268.04 87.27,267.01 88.92,266.94" fill="#111"/>
<polygon points="94.90,265.38 95.48,266.94 97.13,267.01 95.84,268.04 96.28,269.64 94.90,268.72 93.52,269.64 93.96,268.04 92.67,267.01 94.32,266.94" fill="#111"/>
<polyline points="125.50,281.40 125.50,274.50 155.50,274.50 155.50,281.40" fill="none" stroke="#3a3a3a" stroke-width="1"/>
<polygon points="130.80,265.38 131.38,266.94 133.03,267.01 131.74,268.04 132.18,269.64 130.80,268.72 129.42,269.64 129.86,268.04 128.57,267.01 130.22,266.94" fill="#111"/>
<polygon points="136.20,265.38 136.78,266.94 138.43,267.01 137.14,268.04 137.58,269.64 136.20,268.72 134.82,269.64 135.26,268.04 133.97,267.01 135.62,266.94" fill="#111"/>
<polygon points="141.60,265.38 142.18,266.94 143.83,267.01 142.54,268.04 142.98,269.64 141.60,268.72 140.22,269.64 140.66,268.04 139.37,267.01 141.02,266.94" fill="#111"/>
<polygon points="147.00,265.38 147.58,266.94 149.23,267.01 147.94,268.04 148.38,269.64 147.00,268.72 145.62,269.64 146.06,268.04 144.77,267.01 146.42,266.94" fill="#111"/>
<polyline points="192.50,281.40 192.50,274.50 222.50,274.50 222.50,281.40" fill="none" stroke="#3a3a3a" stroke-width="1"/>
<polygon points="198.60,265.38 199.18,266.94 200.83,267.01 199.54,268.04 199.98,269.64 198.60,268.72 197.22,269.64 197.66,268.04 196.37,267.01 198.02,266.94" fill="#111"/>
<polygon points="204.00,265.38 204.58,266.94 206.23,267.01 204.94,268.04 205.38,269.64 204.00,268.72 202.62,269.64 203.06,268.04 201.77,267.01 203.42,266.94" fill="#111"/>
<polygon points="209.40,265.38 209.98,266.94 211.63,267.01 210.34,268.04 210.78,269.64 209.40,268.72 208.02,269.64 208.46,268.04 207.17,267.01 208.82,266.94" fill="#111"/>
<polygon points="214.80,265.38 215.38,266.94 217.03,267.01 215.74,268.04 216.18,269.64 214.80,268.72 213.42,269.64 213.86,268.04 212.57,267.01 214.22,266.94" fill="#111"/>
<polyline points="245.50,281.40 245.50,274.50 275.50,274.50 275.50,281.40" fill="none" stroke="#3a3a3a" stroke-width="1"/>
<polygon points="251.50,265.38 252.08,266.94 253.73,267.01 252.44,268.04 252.88,269.64 251.50,268.72 250.12,269.64 250.56,268.04 249.27,267.01 250.92,266.94" fill="#111"/>
<polygon points="256.90,265.38 257.48,266.94 259.13,267.01 257.84,268.04 258.28,269.64 256.90,268.72 255.52,269.64 255.96,268.04 254.67,267.01 256.32,266.94" fill="#111"/>
<polygon points="262.30,265.38 262.88,266.94 264.53,267.01 263.24,268.04 263.68,269.64 262.30,268.72 260.92,269.64 261.36,268.04 260.07,267.01 261.72,266.94" fill="#111"/>
<polygon points="267.70,265.38 268.28,266.94 269.93,267.01 268.64,268.04 269.08,269.64 267.70,268.72 266.32,269.64 266.76,268.04 265.47,267.01 267.12,266.94" fill="#111"/>
<text x="401.60" y="269.90" text-anchor="start" fill="#000" stroke="#000" stroke-width="0.2" font-size="12.0" font-weight="bold" letter-spacing="0">d</text>
<line x1="459.50" y1="278.30" x2="459.50" y2="434.00" stroke="#a8a8a8" stroke-width="1" />
<line x1="455.10" y1="278.50" x2="459.60" y2="278.50" stroke="#a8a8a8" stroke-width="1" />
<text x="450.60" y="281.90" text-anchor="end" fill="#222" stroke="#222" stroke-width="0.28" font-size="10.6" font-weight="normal" letter-spacing="0.0">4,096</text>
<line x1="455.10" y1="304.50" x2="459.60" y2="304.50" stroke="#a8a8a8" stroke-width="1" />
<text x="450.60" y="307.80" text-anchor="end" fill="#222" stroke="#222" stroke-width="0.28" font-size="10.6" font-weight="normal" letter-spacing="0.0">1,024</text>
<line x1="455.10" y1="330.50" x2="459.60" y2="330.50" stroke="#a8a8a8" stroke-width="1" />
<text x="450.60" y="333.80" text-anchor="end" fill="#222" stroke="#222" stroke-width="0.28" font-size="10.6" font-weight="normal" letter-spacing="0.0">256</text>
<line x1="455.10" y1="356.50" x2="459.60" y2="356.50" stroke="#a8a8a8" stroke-width="1" />
<text x="450.60" y="359.80" text-anchor="end" fill="#222" stroke="#222" stroke-width="0.28" font-size="10.6" font-weight="normal" letter-spacing="0.0">64</text>
<line x1="455.10" y1="382.50" x2="459.60" y2="382.50" stroke="#a8a8a8" stroke-width="1" />
<text x="450.60" y="385.70" text-anchor="end" fill="#222" stroke="#222" stroke-width="0.28" font-size="10.6" font-weight="normal" letter-spacing="0.0">16</text>
<line x1="455.10" y1="408.50" x2="459.60" y2="408.50" stroke="#a8a8a8" stroke-width="1" />
<text x="450.60" y="411.60" text-anchor="end" fill="#222" stroke="#222" stroke-width="0.28" font-size="10.6" font-weight="normal" letter-spacing="0.0">4</text>
<line x1="455.10" y1="434.50" x2="459.60" y2="434.50" stroke="#a8a8a8" stroke-width="1" />
<text x="450.60" y="437.60" text-anchor="end" fill="#222" stroke="#222" stroke-width="0.28" font-size="10.6" font-weight="normal" letter-spacing="0.0">1</text>
<text transform="translate(416.40,347.20) rotate(-90)" x="0" y="0" text-anchor="middle" fill="#222" stroke="#222" stroke-width="0.28" font-size="10.6" letter-spacing="0.0">Anti-N IgG (GMFI)</text>
<line x1="459.60" y1="434.50" x2="582.50" y2="434.50" stroke="#a8a8a8" stroke-width="1" />
<line x1="521.50" y1="434.00" x2="521.50" y2="438.80" stroke="#a8a8a8" stroke-width="1" />
<text x="521.20" y="452.30" text-anchor="middle" fill="#222" stroke="#222" stroke-width="0.28" font-size="10.6" font-weight="normal" letter-spacing="0.0">14</text>
<text x="529.70" y="466.40" text-anchor="middle" fill="#222" stroke="#222" stroke-width="0.28" font-size="10.6" font-weight="normal" letter-spacing="0.0">Booster regimen (d)</text>
<rect x="497.50" y="407.50" width="19.00" height="27.00" fill="#cdfbcd" stroke="#1b8f1b" stroke-width="1"/>
<rect x="554.50" y="417.50" width="18.00" height="17.00" fill="#fde0c3" stroke="#f27c1c" stroke-width="1"/>
<line x1="459.60" y1="434.50" x2="582.50" y2="434.50" stroke="#a8a8a8" stroke-width="1" />
<line x1="507.50" y1="402.50" x2="507.50" y2="410.50" stroke="#1fbf1f" stroke-width="1" />
<line x1="503.00" y1="402.50" x2="512.00" y2="402.50" stroke="#1fbf1f" stroke-width="1" />
<line x1="503.00" y1="410.50" x2="512.00" y2="410.50" stroke="#1fbf1f" stroke-width="1" />
<line x1="563.50" y1="413.50" x2="563.50" y2="420.50" stroke="#f27c1c" stroke-width="1" />
<line x1="559.00" y1="413.50" x2="568.00" y2="413.50" stroke="#f27c1c" stroke-width="1" />
<line x1="559.00" y1="420.50" x2="568.00" y2="420.50" stroke="#f27c1c" stroke-width="1" />
<rect x="469.90" y="432.30" width="18.00" height="3.20" rx="1.60" fill="#1190b0"/>
<circle cx="478.60" cy="395.00" r="1.60" fill="#1190b0"/>
<circle cx="478.60" cy="421.00" r="1.60" fill="#1190b0"/>
<rect x="504.00" y="367.60" width="6.50" height="3.00" fill="#00c000"/>
<rect x="502.00" y="380.70" width="10.00" height="3.00" fill="#00c000"/>
<rect x="498.20" y="393.50" width="18.20" height="3.00" fill="#00c000"/>
<rect x="500.00" y="406.30" width="15.00" height="3.00" fill="#00c000"/>
<rect x="500.90" y="419.50" width="12.30" height="3.00" fill="#00c000"/>
<rect x="499.70" y="432.40" width="14.90" height="3.00" fill="#00c000"/>
<polygon points="526.50,434.50 544.30,434.50 542.60,431.50 528.20,431.50" fill="#f23a48"/>
<polygon points="533.20,422.80 537.20,422.80 535.20,419.20" fill="#f23a48"/>
<polygon points="561.30,380.10 565.30,380.10 563.30,383.70" fill="#ff8000"/>
<polygon points="559.20,393.50 567.60,393.50 565.90,396.50 560.90,396.50" fill="#ff8000"/>
<polygon points="555.70,406.20 571.80,406.20 570.10,409.20 557.40,409.20" fill="#ff8000"/>
<polygon points="554.80,418.10 572.20,418.10 570.50,421.10 556.50,421.10" fill="#ff8000"/>
<polygon points="554.90,432.40 571.50,432.40 569.80,435.40 556.60,435.40" fill="#ff8000"/>
<polyline points="477.50,290.40 477.50,283.50 507.50,283.50 507.50,290.40" fill="none" stroke="#3a3a3a" stroke-width="1"/>
<polygon points="483.40,275.38 483.98,276.94 485.63,277.01 484.34,278.04 484.78,279.64 483.40,278.72 482.02,279.64 482.46,278.04 481.17,277.01 482.82,276.94" fill="#111"/>
<polygon points="488.80,275.38 489.38,276.94 491.03,277.01 489.74,278.04 490.18,279.64 488.80,278.72 487.42,279.64 487.86,278.04 486.57,277.01 488.22,276.94" fill="#111"/>
<polygon points="494.20,275.38 494.78,276.94 496.43,277.01 495.14,278.04 495.58,279.64 494.20,278.72 492.82,279.64 493.26,278.04 491.97,277.01 493.62,276.94" fill="#111"/>
<polygon points="499.60,275.38 500.18,276.94 501.83,277.01 500.54,278.04 500.98,279.64 499.60,278.72 498.22,279.64 498.66,278.04 497.37,277.01 499.02,276.94" fill="#111"/>
<polyline points="533.50,291.70 533.50,284.50 563.50,284.50 563.50,291.70" fill="none" stroke="#3a3a3a" stroke-width="1"/>
<polygon points="540.30,275.38 540.88,276.94 542.53,277.01 541.24,278.04 541.68,279.64 540.30,278.72 538.92,279.64 539.36,278.04 538.07,277.01 539.72,276.94" fill="#111"/>
<polygon points="545.70,275.38 546.28,276.94 547.93,277.01 546.64,278.04 547.08,279.64 545.70,278.72 544.32,279.64 544.76,278.04 543.47,277.01 545.12,276.94" fill="#111"/>
<polygon points="551.10,275.38 551.68,276.94 553.33,277.01 552.04,278.04 552.48,279.64 551.10,278.72 549.72,279.64 550.16,278.04 548.87,277.01 550.52,276.94" fill="#111"/>
<polygon points="556.50,275.38 557.08,276.94 558.73,277.01 557.44,278.04 557.88,279.64 556.50,278.72 555.12,279.64 555.56,278.04 554.27,277.01 555.92,276.94" fill="#111"/>
<circle cx="631.90" cy="286.10" r="1.60" fill="#1190b0"/>
<text x="639.20" y="289.90" text-anchor="start" fill="#222" stroke="#222" stroke-width="0.28" font-size="10.6" font-weight="normal" letter-spacing="0.0">Group A</text>
<rect x="630.40" y="305.50" width="3.00" height="3.00" fill="#00c000"/>
<text x="639.20" y="310.80" text-anchor="start" fill="#222" stroke="#222" stroke-width="0.28" font-size="10.6" font-weight="normal" letter-spacing="0.0">Group B</text>
<polygon points="629.90,329.60 633.90,329.60 631.90,326.00" fill="#f23a48"/>
<text x="639.20" y="331.60" text-anchor="start" fill="#222" stroke="#222" stroke-width="0.28" font-size="10.6" font-weight="normal" letter-spacing="0.0">Group C</text>
<polygon points="629.90,346.50 633.90,346.50 631.90,350.10" fill="#ff8000"/>
<text x="639.20" y="352.10" text-anchor="start" fill="#222" stroke="#222" stroke-width="0.28" font-size="10.6" font-weight="normal" letter-spacing="0.0">Group D</text>
<text x="1.30" y="501.90" text-anchor="start" fill="#000" stroke="#000" stroke-width="0.2" font-size="12.0" font-weight="bold" letter-spacing="0">e</text>
<line x1="58.50" y1="503.70" x2="58.50" y2="659.50" stroke="#a8a8a8" stroke-width="1" />
<line x1="53.50" y1="503.50" x2="58.00" y2="503.50" stroke="#a8a8a8" stroke-width="1" />
<text x="48.40" y="507.30" text-anchor="end" fill="#222" stroke="#222" stroke-width="0.28" font-size="10.6" font-weight="normal" letter-spacing="0.0">100</text>
<line x1="53.50" y1="534.50" x2="58.00" y2="534.50" stroke="#a8a8a8" stroke-width="1" />
<text x="48.40" y="538.50" text-anchor="end" fill="#222" stroke="#222" stroke-width="0.28" font-size="10.6" font-weight="normal" letter-spacing="0.0">80</text>
<line x1="53.50" y1="566.50" x2="58.00" y2="566.50" stroke="#a8a8a8" stroke-width="1" />
<text x="48.40" y="569.60" text-anchor="end" fill="#222" stroke="#222" stroke-width="0.28" font-size="10.6" font-weight="normal" letter-spacing="0.0">60</text>
<line x1="53.50" y1="597.50" x2="58.00" y2="597.50" stroke="#a8a8a8" stroke-width="1" />
<text x="48.40" y="600.80" text-anchor="end" fill="#222" stroke="#222" stroke-width="0.28" font-size="10.6" font-weight="normal" letter-spacing="0.0">40</text>
<line x1="53.50" y1="628.50" x2="58.00" y2="628.50" stroke="#a8a8a8" stroke-width="1" />
<text x="48.40" y="632.00" text-anchor="end" fill="#222" stroke="#222" stroke-width="0.28" font-size="10.6" font-weight="normal" letter-spacing="0.0">20</text>
<line x1="53.50" y1="659.50" x2="58.00" y2="659.50" stroke="#a8a8a8" stroke-width="1" />
<text x="48.40" y="663.10" text-anchor="end" fill="#222" stroke="#222" stroke-width="0.28" font-size="10.6" font-weight="normal" letter-spacing="0.0">0</text>
<text transform="translate(26.00,579.60) rotate(-90)" x="0" y="0" text-anchor="middle" fill="#222" stroke="#222" stroke-width="0.28" font-size="10.6" letter-spacing="0.0">Anti-RBD IgG (seroconversion)</text>
<line x1="58.00" y1="659.50" x2="292.30" y2="659.50" stroke="#a8a8a8" stroke-width="1" />
<line x1="114.50" y1="659.50" x2="114.50" y2="664.30" stroke="#a8a8a8" stroke-width="1" />
<text x="114.20" y="677.90" text-anchor="middle" fill="#222" stroke="#222" stroke-width="0.28" font-size="10.6" font-weight="normal" letter-spacing="0.0">14</text>
<line x1="235.50" y1="659.50" x2="235.50" y2="664.30" stroke="#a8a8a8" stroke-width="1" />
<text x="235.10" y="677.90" text-anchor="middle" fill="#222" stroke="#222" stroke-width="0.28" font-size="10.6" font-weight="normal" letter-spacing="0.0">28</text>
<text x="183.70" y="695.60" text-anchor="middle" fill="#222" stroke="#222" stroke-width="0.28" font-size="10.6" font-weight="normal" letter-spacing="0.0">Booster regimen (d)</text>
<rect x="66.50" y="504.50" width="17.00" height="155.00" fill="#c8dcf5" stroke="#3a90b6" stroke-width="1"/>
<rect x="92.50" y="507.50" width="17.00" height="152.00" fill="#cdfbcd" stroke="#2a962a" stroke-width="1"/>
<rect x="119.50" y="507.50" width="16.00" height="152.00" fill="#fde0e3" stroke="#ec3442" stroke-width="1"/>
<rect x="144.50" y="504.50" width="17.00" height="155.00" fill="#fde0c3" stroke="#f5882a" stroke-width="1"/>
<rect x="188.50" y="507.50" width="17.00" height="152.00" fill="#c8dcf5" stroke="#3a90b6" stroke-width="1"/>
<rect x="214.50" y="507.50" width="17.00" height="152.00" fill="#cdfbcd" stroke="#2a962a" stroke-width="1"/>
<rect x="240.50" y="510.50" width="17.00" height="149.00" fill="#fde0e3" stroke="#ec3442" stroke-width="1"/>
<rect x="266.50" y="504.50" width="17.00" height="155.00" fill="#fde0c3" stroke="#f5882a" stroke-width="1"/>
<line x1="58.00" y1="659.50" x2="292.30" y2="659.50" stroke="#a8a8a8" stroke-width="1" />
<line x1="75.50" y1="504.50" x2="75.50" y2="510.50" stroke="#3aa6c8" stroke-width="1" />
<line x1="71.25" y1="504.50" x2="79.75" y2="504.50" stroke="#3aa6c8" stroke-width="1" />
<line x1="71.25" y1="510.50" x2="79.75" y2="510.50" stroke="#3aa6c8" stroke-width="1" />
<line x1="101.50" y1="504.50" x2="101.50" y2="514.50" stroke="#3cc83c" stroke-width="1" />
<line x1="97.25" y1="504.50" x2="105.75" y2="504.50" stroke="#3cc83c" stroke-width="1" />
<line x1="97.25" y1="514.50" x2="105.75" y2="514.50" stroke="#3cc83c" stroke-width="1" />
<line x1="127.50" y1="504.50" x2="127.50" y2="520.50" stroke="#f2646e" stroke-width="1" />
<line x1="123.25" y1="504.50" x2="131.75" y2="504.50" stroke="#f2646e" stroke-width="1" />
<line x1="123.25" y1="520.50" x2="131.75" y2="520.50" stroke="#f2646e" stroke-width="1" />
<line x1="153.50" y1="504.50" x2="153.50" y2="515.50" stroke="#f59a3a" stroke-width="1" />
<line x1="149.25" y1="515.50" x2="157.75" y2="515.50" stroke="#f59a3a" stroke-width="1" />
<line x1="196.50" y1="504.50" x2="196.50" y2="515.50" stroke="#3aa6c8" stroke-width="1" />
<line x1="192.25" y1="504.50" x2="200.75" y2="504.50" stroke="#3aa6c8" stroke-width="1" />
<line x1="192.25" y1="515.50" x2="200.75" y2="515.50" stroke="#3aa6c8" stroke-width="1" />
<line x1="222.50" y1="504.50" x2="222.50" y2="514.50" stroke="#3cc83c" stroke-width="1" />
<line x1="218.25" y1="504.50" x2="226.75" y2="504.50" stroke="#3cc83c" stroke-width="1" />
<line x1="218.25" y1="514.50" x2="226.75" y2="514.50" stroke="#3cc83c" stroke-width="1" />
<line x1="248.50" y1="505.50" x2="248.50" y2="525.50" stroke="#f2646e" stroke-width="1" />
<line x1="244.25" y1="505.50" x2="252.75" y2="505.50" stroke="#f2646e" stroke-width="1" />
<line x1="244.25" y1="525.50" x2="252.75" y2="525.50" stroke="#f2646e" stroke-width="1" />
<line x1="274.50" y1="504.50" x2="274.50" y2="515.50" stroke="#f59a3a" stroke-width="1" />
<line x1="270.25" y1="515.50" x2="278.75" y2="515.50" stroke="#f59a3a" stroke-width="1" />
<text x="402.00" y="501.90" text-anchor="start" fill="#000" stroke="#000" stroke-width="0.2" font-size="12.0" font-weight="bold" letter-spacing="0">f</text>
<line x1="458.50" y1="504.10" x2="458.50" y2="659.50" stroke="#a8a8a8" stroke-width="1" />
<line x1="454.30" y1="504.50" x2="458.80" y2="504.50" stroke="#a8a8a8" stroke-width="1" />
<text x="449.40" y="507.70" text-anchor="end" fill="#222" stroke="#222" stroke-width="0.28" font-size="10.6" font-weight="normal" letter-spacing="0.0">100</text>
<line x1="454.30" y1="535.50" x2="458.80" y2="535.50" stroke="#a8a8a8" stroke-width="1" />
<text x="449.40" y="538.80" text-anchor="end" fill="#222" stroke="#222" stroke-width="0.28" font-size="10.6" font-weight="normal" letter-spacing="0.0">80</text>
<line x1="454.30" y1="566.50" x2="458.80" y2="566.50" stroke="#a8a8a8" stroke-width="1" />
<text x="449.40" y="569.90" text-anchor="end" fill="#222" stroke="#222" stroke-width="0.28" font-size="10.6" font-weight="normal" letter-spacing="0.0">60</text>
<line x1="454.30" y1="597.50" x2="458.80" y2="597.50" stroke="#a8a8a8" stroke-width="1" />
<text x="449.40" y="601.00" text-anchor="end" fill="#222" stroke="#222" stroke-width="0.28" font-size="10.6" font-weight="normal" letter-spacing="0.0">40</text>
<line x1="454.30" y1="628.50" x2="458.80" y2="628.50" stroke="#a8a8a8" stroke-width="1" />
<text x="449.40" y="632.00" text-anchor="end" fill="#222" stroke="#222" stroke-width="0.28" font-size="10.6" font-weight="normal" letter-spacing="0.0">20</text>
<line x1="454.30" y1="659.50" x2="458.80" y2="659.50" stroke="#a8a8a8" stroke-width="1" />
<text x="449.40" y="663.10" text-anchor="end" fill="#222" stroke="#222" stroke-width="0.28" font-size="10.6" font-weight="normal" letter-spacing="0.0">0</text>
<text transform="translate(426.20,578.30) rotate(-90)" x="0" y="0" text-anchor="middle" fill="#222" stroke="#222" stroke-width="0.28" font-size="10.6" letter-spacing="0.0">Anti-N IgG (seroconversion)</text>
<line x1="458.80" y1="659.50" x2="581.00" y2="659.50" stroke="#a8a8a8" stroke-width="1" />
<line x1="519.50" y1="659.50" x2="519.50" y2="664.30" stroke="#a8a8a8" stroke-width="1" />
<text x="519.30" y="677.30" text-anchor="middle" fill="#222" stroke="#222" stroke-width="0.28" font-size="10.6" font-weight="normal" letter-spacing="0.0">14</text>
<text x="523.60" y="691.60" text-anchor="middle" fill="#222" stroke="#222" stroke-width="0.28" font-size="10.6" font-weight="normal" letter-spacing="0.0">Booster regimen (d)</text>
<rect x="468.00" y="657.6" width="19.00" height="2" fill="#1f7fa0"/>
<rect x="496.50" y="562.50" width="18.00" height="97.00" fill="#cdfbcd" stroke="#2a962a" stroke-width="1"/>
<rect x="552.50" y="596.50" width="18.00" height="63.00" fill="#fde0c3" stroke="#f5882a" stroke-width="1"/>
<line x1="458.80" y1="659.50" x2="581.00" y2="659.50" stroke="#a8a8a8" stroke-width="1" />
<line x1="477.50" y1="650.50" x2="477.50" y2="657.50" stroke="#6cc2da" stroke-width="1" />
<line x1="472.75" y1="650.50" x2="482.25" y2="650.50" stroke="#6cc2da" stroke-width="1" />
<line x1="505.50" y1="548.50" x2="505.50" y2="577.50" stroke="#3cc83c" stroke-width="1" />
<line x1="500.90" y1="548.50" x2="510.10" y2="548.50" stroke="#3cc83c" stroke-width="1" />
<line x1="500.90" y1="577.50" x2="510.10" y2="577.50" stroke="#3cc83c" stroke-width="1" />
<line x1="561.50" y1="574.50" x2="561.50" y2="616.50" stroke="#f59a3a" stroke-width="1" />
<line x1="556.90" y1="574.50" x2="566.10" y2="574.50" stroke="#f59a3a" stroke-width="1" />
<line x1="556.90" y1="616.50" x2="566.10" y2="616.50" stroke="#f59a3a" stroke-width="1" />
<line x1="533.50" y1="648.50" x2="533.50" y2="659.50" stroke="#f5848e" stroke-width="1" />
<line x1="529.00" y1="648.50" x2="538.00" y2="648.50" stroke="#f5848e" stroke-width="1" />
<line x1="529.00" y1="659.50" x2="538.00" y2="659.50" stroke="#f5848e" stroke-width="1" />
<polyline points="478.50,516.60 478.50,509.50 507.50,509.50 507.50,516.60" fill="none" stroke="#3a3a3a" stroke-width="1"/>
<polygon points="483.60,500.28 484.18,501.84 485.83,501.91 484.54,502.94 484.98,504.54 483.60,503.62 482.22,504.54 482.66,502.94 481.37,501.91 483.02,501.84" fill="#111"/>
<polygon points="489.00,500.28 489.58,501.84 491.23,501.91 489.94,502.94 490.38,504.54 489.00,503.62 487.62,504.54 488.06,502.94 486.77,501.91 488.42,501.84" fill="#111"/>
<polygon points="494.40,500.28 494.98,501.84 496.63,501.91 495.34,502.94 495.78,504.54 494.40,503.62 493.02,504.54 493.46,502.94 492.17,501.91 493.82,501.84" fill="#111"/>
<polygon points="499.80,500.28 500.38,501.84 502.03,501.91 500.74,502.94 501.18,504.54 499.80,503.62 498.42,504.54 498.86,502.94 497.57,501.91 499.22,501.84" fill="#111"/>
<polyline points="533.50,516.60 533.50,509.50 563.50,509.50 563.50,516.60" fill="none" stroke="#3a3a3a" stroke-width="1"/>
<polygon points="539.20,500.28 539.78,501.84 541.43,501.91 540.14,502.94 540.58,504.54 539.20,503.62 537.82,504.54 538.26,502.94 536.97,501.91 538.62,501.84" fill="#111"/>
<polygon points="544.60,500.28 545.18,501.84 546.83,501.91 545.54,502.94 545.98,504.54 544.60,503.62 543.22,504.54 543.66,502.94 542.37,501.91 544.02,501.84" fill="#111"/>
<polygon points="550.00,500.28 550.58,501.84 552.23,501.91 550.94,502.94 551.38,504.54 550.00,503.62 548.62,504.54 549.06,502.94 547.77,501.91 549.42,501.84" fill="#111"/>
<polygon points="555.40,500.28 555.98,501.84 557.63,501.91 556.34,502.94 556.78,504.54 555.40,503.62 554.02,504.54 554.46,502.94 553.17,501.91 554.82,501.84" fill="#111"/>
<rect x="621.2" y="510.80" width="16.9" height="2.6" rx="0.6" fill="#2f86ad"/>
<text x="643.60" y="515.90" text-anchor="start" fill="#222" stroke="#222" stroke-width="0.28" font-size="10.6" font-weight="normal" letter-spacing="0.0">Group A</text>
<rect x="621.2" y="531.70" width="16.9" height="2.6" rx="0.6" fill="#259425"/>
<text x="643.60" y="536.80" text-anchor="start" fill="#222" stroke="#222" stroke-width="0.28" font-size="10.6" font-weight="normal" letter-spacing="0.0">Group B</text>
<rect x="621.2" y="552.30" width="16.9" height="2.6" rx="0.6" fill="#f0404c"/>
<text x="643.60" y="557.40" text-anchor="start" fill="#222" stroke="#222" stroke-width="0.28" font-size="10.6" font-weight="normal" letter-spacing="0.0">Group C</text>
<rect x="621.2" y="573.10" width="16.9" height="2.6" rx="0.6" fill="#fb9448"/>
<text x="643.60" y="578.20" text-anchor="start" fill="#222" stroke="#222" stroke-width="0.28" font-size="10.6" font-weight="normal" letter-spacing="0.0">Group D</text>
</svg>
</body></html>
